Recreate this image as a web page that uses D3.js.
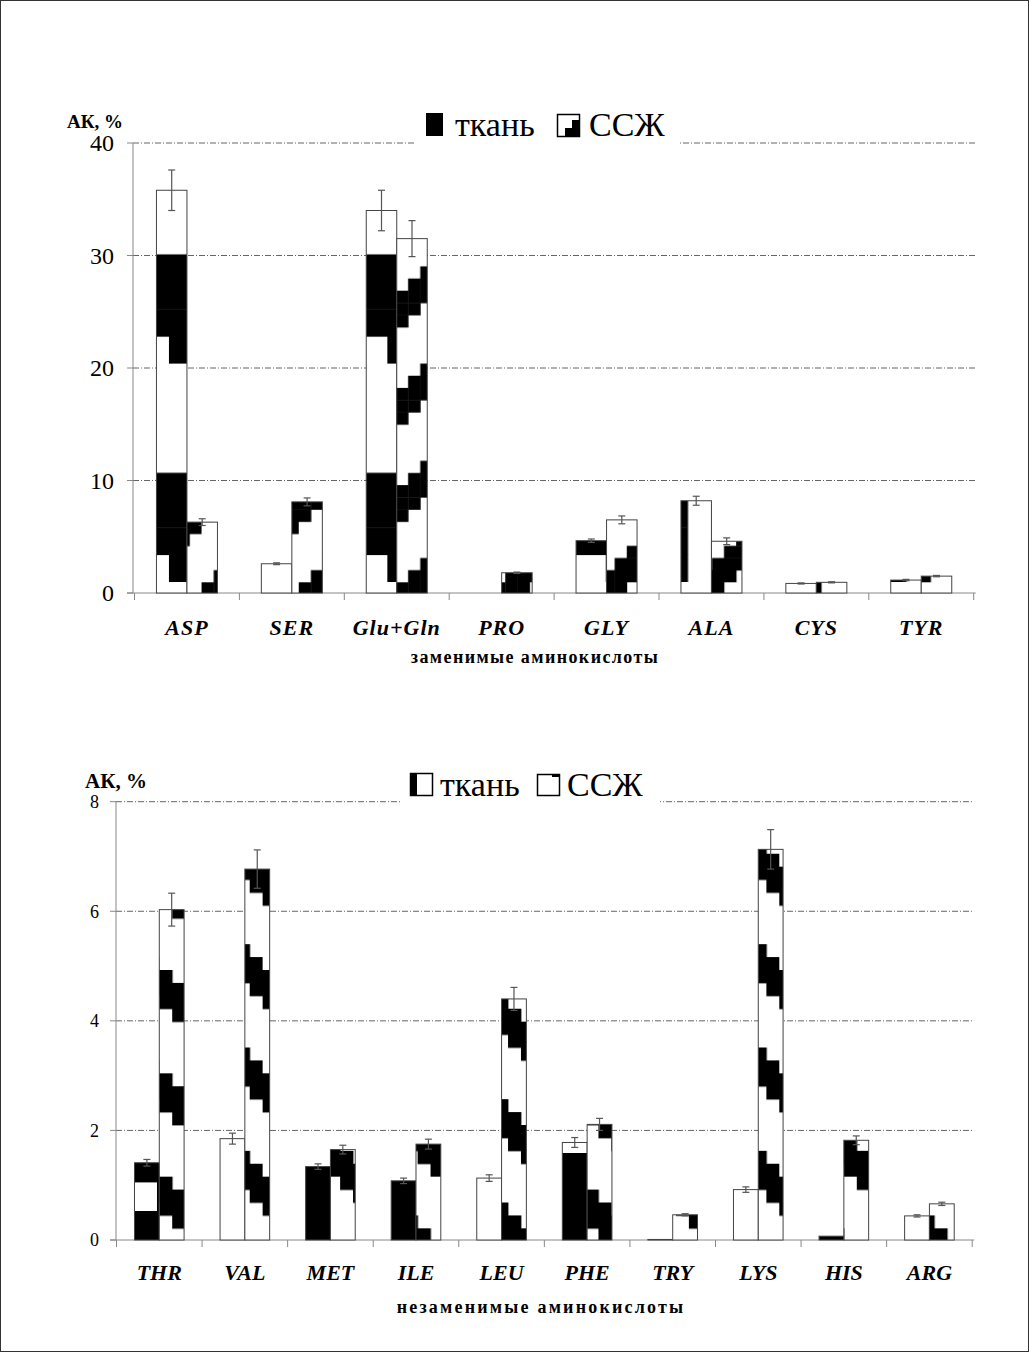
<!DOCTYPE html>
<html>
<head>
<meta charset="utf-8">
<script src="https://cdn.jsdelivr.net/npm/d3@7"></script>
<style>
  body { margin: 0; background: #fff; }
  svg { display: block; }
  text { font-family: "Liberation Serif", "Times New Roman", serif; fill: #000; }
</style>
</head>
<body>
<div id="chart"></div>
<script>
// --- top panel: replaceable amino acids
var cats1 = ["ASP", "SER", "Glu+Gln", "PRO", "GLY", "ALA", "CYS", "TYR"];
var tissue1 = [35.8, 2.6, 34.0, 0, 4.65, 8.2, 0.85, 1.15];
var ssg1 = [6.3, 8.1, 31.5, 1.8, 6.5, 4.6, 0.95, 1.5];
var errTissue1 = [1.8, 0.08, 1.8, 0, 0.15, 0.4, 0.05, 0.06];
var errSsg1 = [0.3, 0.35, 1.6, 0.06, 0.35, 0.3, 0.05, 0.06];
var ticks1 = [0, 10, 20, 30, 40];

// --- bottom panel: essential amino acids
var cats2 = ["THR", "VAL", "MET", "ILE", "LEU", "PHE", "TRY", "LYS", "HIS", "ARG"];
var tissue2 = [1.41, 1.85, 1.34, 1.08, 1.13, 1.78, 0.01, 0.92, 0.07, 0.44];
var ssg2 = [6.03, 6.77, 1.65, 1.75, 4.4, 2.11, 0.46, 7.13, 1.82, 0.66];
var errTissue2 = [0.06, 0.1, 0.05, 0.05, 0.06, 0.09, 0, 0.05, 0, 0.02];
var errSsg2 = [0.3, 0.35, 0.08, 0.09, 0.21, 0.11, 0.02, 0.36, 0.08, 0.03];
var ticks2 = [0, 2, 4, 6, 8];

var seriesNames = ["ткань", "ССЖ"];

var W = 1029, H = 1352;

var svg = d3.select("#chart").append("svg")
    .attr("width", W)
    .attr("height", H);

var defs = svg.append("defs");

svg.append("rect")
    .attr("x", 0.5).attr("y", 0.5)
    .attr("width", W - 1).attr("height", H - 1)
    .attr("fill", "#fff").attr("stroke", "#333");

// 8x8 block pattern, tests each cell with isBlack(col,row)
function makePattern(id, x0, y0, cell, isBlack) {
  var p = defs.append("pattern")
      .attr("id", id)
      .attr("patternUnits", "userSpaceOnUse")
      .attr("x", x0).attr("y", y0)
      .attr("width", cell * 8).attr("height", cell * 8);
  p.append("rect").attr("width", cell * 8).attr("height", cell * 8).attr("fill", "#fff");
  for (var c = 0; c < 8; c++) {
    for (var r = 0; r < 8; r++) {
      if (isBlack(c, r)) {
        p.append("rect")
            .attr("x", c * cell).attr("y", r * cell)
            .attr("width", cell + 0.4).attr("height", cell + 0.4)
            .attr("fill", "#000");
      }
    }
  }
}

function gridTest(grid) {
  return function(c, r) { return grid[r][c] === "#"; };
}

function drawPanel(o) {
  var x = d3.scaleBand().domain(o.cats).range(o.xRange).paddingInner(0).paddingOuter(0);
  var y = d3.scaleLinear().domain(o.yDomain).range(o.yRange);
  var xc = function(d) { return x(d) + x.bandwidth() / 2; };
  var g = svg.append("g");

  // patterns
  var tp = o.tissuePat, sp = o.ssgPat;
  makePattern(o.id + "-t", tp.x0(xc, y), tp.y0(xc, y), tp.cell, gridTest(tp.grid));
  makePattern(o.id + "-s", sp.x0(xc, y), sp.y0(xc, y), sp.cell, function(c, r) {
    return (((r + sp.dir * c) % 8) + 8) % 8 <= 2;
  });

  // gridlines
  g.append("g").selectAll("line")
    .data(o.ticks.filter(function(t) { return t > 0; }))
    .enter().append("line")
      .attr("x1", o.axisX).attr("x2", o.xRange[1] + 2)
      .attr("y1", function(d) { return y(d); })
      .attr("y2", function(d) { return y(d); })
      .attr("stroke", "#666")
      .attr("stroke-width", 1)
      .attr("stroke-dasharray", "6,2,1,2");

  // y axis
  g.append("line")
      .attr("x1", o.axisX).attr("x2", o.axisX)
      .attr("y1", y(o.yDomain[1])).attr("y2", y(0))
      .attr("stroke", "#888");
  g.append("g").selectAll("line")
    .data(o.ticks).enter().append("line")
      .attr("x1", o.axisX - 6).attr("x2", o.axisX)
      .attr("y1", function(d) { return y(d); })
      .attr("y2", function(d) { return y(d); })
      .attr("stroke", "#888");
  g.append("g").selectAll("text")
    .data(o.ticks).enter().append("text")
      .attr("x", o.tickLabelX)
      .attr("y", function(d) { return y(d); })
      .attr("dy", "0.35em")
      .attr("text-anchor", "end")
      .style("font-size", o.tickFont + "px")
      .text(function(d) { return d; });

  // x axis with ticks between categories
  g.append("line")
      .attr("x1", o.axisX - 6).attr("x2", o.xRange[1] + 2)
      .attr("y1", y(0)).attr("y2", y(0))
      .attr("stroke", "#888");
  var bounds = o.cats.map(function(d) { return x(d); }).concat([o.xRange[1]]);
  g.append("g").selectAll("line")
    .data(bounds).enter().append("line")
      .attr("x1", function(d) { return d; }).attr("x2", function(d) { return d; })
      .attr("y1", y(0)).attr("y2", y(0) + 7)
      .attr("stroke", "#888");

  // bars
  var rows = o.cats.map(function(c, i) {
    return { cat: c, t: o.tissue[i], s: o.ssg[i], et: o.errT[i], es: o.errS[i] };
  });
  var bw = o.barW;
  var bars = g.append("g");
  bars.selectAll("rect.t").data(rows).enter().append("rect")
      .attr("class", "t")
      .attr("x", function(d) { return xc(d.cat) - bw; })
      .attr("y", function(d) { return y(d.t); })
      .attr("width", bw)
      .attr("height", function(d) { return y(0) - y(d.t); })
      .attr("fill", "url(#" + o.id + "-t)")
      .attr("stroke", function(d) { return d.t > 0 ? "#444" : "none"; })
      .attr("stroke-width", 1);
  bars.selectAll("rect.s").data(rows).enter().append("rect")
      .attr("class", "s")
      .attr("x", function(d) { return xc(d.cat); })
      .attr("y", function(d) { return y(d.s); })
      .attr("width", bw)
      .attr("height", function(d) { return y(0) - y(d.s); })
      .attr("fill", "url(#" + o.id + "-s)")
      .attr("stroke", "#444")
      .attr("stroke-width", 1);

  // error bars
  var errs = [];
  rows.forEach(function(d) {
    if (d.et > 0) errs.push({ cx: xc(d.cat) - bw / 2, v: d.t, e: d.et });
    if (d.es > 0) errs.push({ cx: xc(d.cat) + bw / 2, v: d.s, e: d.es });
  });
  var eg = g.append("g").attr("stroke", "#555").attr("stroke-width", 1.2);
  eg.selectAll("line.v").data(errs).enter().append("line")
      .attr("x1", function(d) { return d.cx; }).attr("x2", function(d) { return d.cx; })
      .attr("y1", function(d) { return y(d.v - d.e); })
      .attr("y2", function(d) { return y(d.v + d.e); });
  eg.selectAll("line.hi").data(errs).enter().append("line")
      .attr("x1", function(d) { return d.cx - 3.5; }).attr("x2", function(d) { return d.cx + 3.5; })
      .attr("y1", function(d) { return y(d.v + d.e); })
      .attr("y2", function(d) { return y(d.v + d.e); });
  eg.selectAll("line.lo").data(errs).enter().append("line")
      .attr("x1", function(d) { return d.cx - 3.5; }).attr("x2", function(d) { return d.cx + 3.5; })
      .attr("y1", function(d) { return y(d.v - d.e); })
      .attr("y2", function(d) { return y(d.v - d.e); });

  // category labels
  g.append("g").selectAll("text")
    .data(o.cats).enter().append("text")
      .attr("x", function(d) { return xc(d); })
      .attr("y", o.catLabelY)
      .attr("text-anchor", "middle")
      .style("font-size", o.catFont + "px")
      .style("font-weight", "bold")
      .style("font-style", "italic")
      .style("letter-spacing", o.catSpacing + "px")
      .text(function(d) { return d; });

  // axis title
  g.append("text")
      .attr("x", o.titleX).attr("y", o.titleY)
      .attr("text-anchor", "middle")
      .style("font-size", "18px")
      .style("font-weight", "bold")
      .style("letter-spacing", o.titleSpacing + "px")
      .text(o.xTitle);

  // y unit label
  g.append("text")
      .attr("x", o.unitX).attr("y", o.unitY)
      .style("font-size", o.unitFont + "px")
      .style("font-weight", "bold")
      .text("АК, %");

  // legend
  var L = o.legend;
  g.append("rect")
      .attr("x", L.bg[0]).attr("y", L.bg[1]).attr("width", L.bg[2]).attr("height", L.bg[3])
      .attr("fill", "#fff");
  L.draw(g);
  g.append("text").attr("x", L.text1X).attr("y", L.textY)
      .style("font-size", "34px").text(seriesNames[0]);
  g.append("text").attr("x", L.text2X).attr("y", L.textY)
      .style("font-size", "34px").text(seriesNames[1]);
}

drawPanel({
  id: "p1",
  cats: cats1, tissue: tissue1, ssg: ssg1, errT: errTissue1, errS: errSsg1,
  ticks: ticks1, yDomain: [0, 40], yRange: [593, 143],
  xRange: [134.5, 973.7], axisX: 133, barW: 30.5,
  tickLabelX: 114, tickFont: 24,
  catLabelY: 635, catFont: 22, catSpacing: 1,
  xTitle: "заменимые аминокислоты", titleX: 535, titleY: 663, titleSpacing: 1.4,
  unitX: 67, unitY: 128, unitFont: 19,
  tissuePat: {
    cell: 27.3,
    x0: function(xc, y) { return xc("ASP") - 18; },
    y0: function(xc, y) { return y(0) - 11 - 8 * 27.3; },
    grid: ["........", "........", "........", "........",
           "###.####", "###.####", "###.####", "###....."]
  },
  ssgPat: {
    cell: 12.15, dir: 1,
    x0: function(xc, y) { return xc("Glu+Gln") - 0.8; },
    y0: function(xc, y) { return y(0) - 302.3; }
  },
  legend: {
    bg: [416, 104, 264, 44], text1X: 455, text2X: 589, textY: 136,
    draw: function(g) {
      g.append("rect").attr("x", 426).attr("y", 113).attr("width", 17).attr("height", 23).attr("fill", "#000");
      g.append("rect").attr("x", 557.5).attr("y", 114.5).attr("width", 22).attr("height", 22)
          .attr("fill", "#fff").attr("stroke", "#000").attr("stroke-width", 1.5);
      g.append("path").attr("d", "M572,120H580V137H565V128H572Z").attr("fill", "#000");
    }
  }
});

drawPanel({
  id: "p2",
  cats: cats2, tissue: tissue2, ssg: ssg2, errT: errTissue2, errS: errSsg2,
  ticks: ticks2, yDomain: [0, 8], yRange: [1240, 801.7],
  xRange: [116.5, 972.2], axisX: 116, barW: 24.8,
  tickLabelX: 99, tickFont: 18,
  catLabelY: 1280, catFont: 22, catSpacing: 0,
  xTitle: "незаменимые аминокислоты", titleX: 541, titleY: 1313, titleSpacing: 2.2,
  unitX: 85, unitY: 788, unitFont: 21,
  tissuePat: {
    cell: 29,
    x0: function(xc, y) { return xc("THR") + 84.7; },
    y0: function(xc, y) { return y(0) - 8 * 29; },
    grid: ["........", "........", "........", "........", "........",
           "..####..", "..##.#..", "..####.."]
  },
  ssgPat: {
    cell: 12.917, dir: -1,
    x0: function(xc, y) { return xc("THR"); },
    y0: function(xc, y) { return y(0) - 270; }
  },
  legend: {
    bg: [402, 764, 258, 44], text1X: 440, text2X: 567, textY: 796,
    draw: function(g) {
      g.append("rect").attr("x", 410.5).attr("y", 773.5).attr("width", 22).attr("height", 22)
          .attr("fill", "#fff").attr("stroke", "#000").attr("stroke-width", 1.5);
      g.append("rect").attr("x", 410).attr("y", 773).attr("width", 7).attr("height", 23).attr("fill", "#000");
      g.append("rect").attr("x", 537.5).attr("y", 774.5).attr("width", 22).attr("height", 21)
          .attr("fill", "#fff").attr("stroke", "#000").attr("stroke-width", 1.5);
      g.append("rect").attr("x", 552).attr("y", 774).attr("width", 8).attr("height", 3).attr("fill", "#000");
    }
  }
});
</script>
</body>
</html>
